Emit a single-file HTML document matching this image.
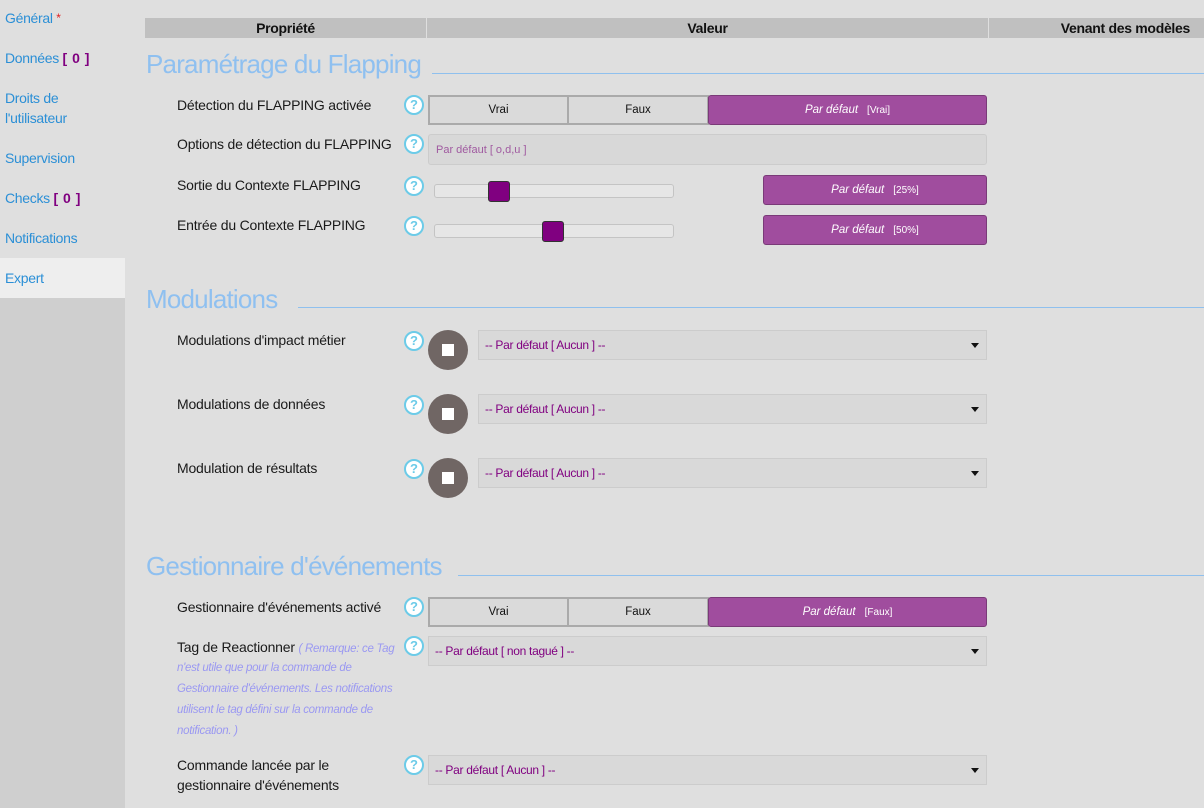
<!DOCTYPE html>
<html><head><meta charset="utf-8">
<style>
*{box-sizing:border-box;margin:0;padding:0}
body{width:1204px;height:808px;background:#dfdfdf;font-family:"Liberation Sans",sans-serif;position:relative;overflow:hidden}
.a{position:absolute}
.side{left:0;top:0;width:125px;height:808px;background:#cfcfcf}
.sidetop{left:0;top:0;width:125px;height:258px;background:#dfdfdf}
.exp{left:0;top:258px;width:125px;height:40px;background:#eeeeee}
.nav{left:5px;font-size:14px;color:#2b8fd6;line-height:20px;white-space:nowrap;letter-spacing:-0.3px}
.nav b{color:#800080;font-weight:bold;letter-spacing:0.5px}
.hdr{top:18px;height:20px;background:#c0c0c0;font-size:14px;font-weight:bold;color:#111;line-height:20px;text-align:center;letter-spacing:-0.3px}
.title{left:146px;font-size:26px;color:#8fc0f0;white-space:nowrap;line-height:30px;letter-spacing:-0.8px}
.hline{height:1px;background:#8fc0ee;right:0}
.lbl{left:177px;font-size:14px;color:#1a1a1a;white-space:nowrap;line-height:20px;letter-spacing:-0.2px}
.help{width:20px;height:20px;border-radius:50%;background:#fff;border:2px solid #6ccbe8;color:#6ccbe8;font-size:13px;font-weight:bold;text-align:center;line-height:16px}
.btn{height:30px;background:#dadada;border:2px solid #aaa;font-size:11.5px;color:#111;text-align:center;line-height:27px}
.pbtn{height:30px;background:#a04d9e;border:1px solid #7a3a78;border-radius:3px;color:#fff;font-size:11.5px;text-align:center;line-height:28px}
.pbtn i{font-size:11.5px}
.pbtn span{font-size:10px;margin-left:9px}
.inp{height:31px;background:#d8d8d8;border:1px solid #ccc;border-radius:3px}
.sel{height:30px;background:#d9d9d9;border:1px solid #ccc;font-size:12px;color:#800080;line-height:28px;padding-left:6px;letter-spacing:-0.3px}
.sel:after{content:"";position:absolute;right:7px;top:12px;border-left:4px solid transparent;border-right:4px solid transparent;border-top:5px solid #111}
.track{height:14px;background:#e6e6e6;border:1px solid #c4c4c4;border-radius:3px}
.thumb{width:22px;height:21px;background:#800080;border:1px solid #333;border-radius:3px}
.circ{width:40px;height:40px;border-radius:50%;background:#706664}
.circ:after{content:"";position:absolute;left:14px;top:14px;width:12px;height:12px;background:#fff}
.note{font-style:italic;color:#9a98f2;font-size:11.5px;letter-spacing:-0.3px;white-space:nowrap;line-height:21px;left:177px}
</style></head><body>
<div class="a side"></div>
<div class="a sidetop"></div>
<div class="a exp"></div>
<div class="a nav" style="top:8px">Général <span style="color:#e02020;font-size:12px;vertical-align:top">*</span></div>
<div class="a nav" style="top:48px">Données <b>[ 0 ]</b></div>
<div class="a nav" style="top:88px">Droits de<br>l'utilisateur</div>
<div class="a nav" style="top:148px">Supervision</div>
<div class="a nav" style="top:188px">Checks <b>[ 0 ]</b></div>
<div class="a nav" style="top:228px">Notifications</div>
<div class="a nav" style="top:268px">Expert</div>

<div class="a hdr" style="left:145px;width:281px">Propriété</div>
<div class="a hdr" style="left:427px;width:561px">Valeur</div>
<div class="a hdr" style="left:989px;width:215px;text-align:right;padding-right:14px">Venant des modèles</div>

<!-- Section 1 -->
<div class="a title" style="top:49px">Paramétrage du Flapping</div>
<div class="a hline" style="left:432px;top:73px"></div>

<div class="a lbl" style="top:95px">Détection du FLAPPING activée</div>
<div class="a help" style="left:404px;top:95px">?</div>
<div class="a btn" style="left:428px;top:95px;width:141px">Vrai</div>
<div class="a btn" style="left:567px;top:95px;width:142px">Faux</div>
<div class="a pbtn" style="left:708px;top:95px;width:279px"><i>Par défaut</i><span>[Vrai]</span></div>

<div class="a lbl" style="top:134px">Options de détection du FLAPPING</div>
<div class="a help" style="left:404px;top:134px">?</div>
<div class="a inp" style="left:428px;top:134px;width:559px;font-size:11px;color:#a05aa0;line-height:31px;padding-left:7px">Par défaut [ o,d,u ]</div>

<div class="a lbl" style="top:175px">Sortie du Contexte FLAPPING</div>
<div class="a help" style="left:404px;top:176px">?</div>
<div class="a track" style="left:434px;top:184px;width:240px"></div>
<div class="a thumb" style="left:488px;top:181px"></div>
<div class="a pbtn" style="left:763px;top:175px;width:224px"><i>Par défaut</i><span>[25%]</span></div>

<div class="a lbl" style="top:215px">Entrée du Contexte FLAPPING</div>
<div class="a help" style="left:404px;top:216px">?</div>
<div class="a track" style="left:434px;top:224px;width:240px"></div>
<div class="a thumb" style="left:542px;top:221px"></div>
<div class="a pbtn" style="left:763px;top:215px;width:224px"><i>Par défaut</i><span>[50%]</span></div>

<!-- Section 2 -->
<div class="a title" style="top:284px">Modulations</div>
<div class="a hline" style="left:298px;top:307px"></div>

<div class="a lbl" style="top:330px">Modulations d'impact métier</div>
<div class="a help" style="left:404px;top:331px">?</div>
<div class="a circ" style="left:428px;top:330px"></div>
<div class="a sel" style="left:478px;top:330px;width:509px">-- Par défaut [ Aucun ] --</div>

<div class="a lbl" style="top:394px">Modulations de données</div>
<div class="a help" style="left:404px;top:395px">?</div>
<div class="a circ" style="left:428px;top:394px"></div>
<div class="a sel" style="left:478px;top:394px;width:509px">-- Par défaut [ Aucun ] --</div>

<div class="a lbl" style="top:458px">Modulation de résultats</div>
<div class="a help" style="left:404px;top:459px">?</div>
<div class="a circ" style="left:428px;top:458px"></div>
<div class="a sel" style="left:478px;top:458px;width:509px">-- Par défaut [ Aucun ] --</div>

<!-- Section 3 -->
<div class="a title" style="top:551px">Gestionnaire d'événements</div>
<div class="a hline" style="left:458px;top:575px"></div>

<div class="a lbl" style="top:597px">Gestionnaire d'événements activé</div>
<div class="a help" style="left:404px;top:597px">?</div>
<div class="a btn" style="left:428px;top:597px;width:141px">Vrai</div>
<div class="a btn" style="left:567px;top:597px;width:142px">Faux</div>
<div class="a pbtn" style="left:708px;top:597px;width:279px"><i>Par défaut</i><span>[Faux]</span></div>

<div class="a lbl" style="top:637px">Tag de Reactionner <span class="note" style="position:static">( Remarque: ce Tag</span></div>
<div class="a note" style="top:658px">n'est utile que pour la commande de</div>
<div class="a note" style="top:679px">Gestionnaire d'événements. Les notifications</div>
<div class="a note" style="top:700px">utilisent le tag défini sur la commande de</div>
<div class="a note" style="top:721px">notification. )</div>
<div class="a help" style="left:404px;top:636px">?</div>
<div class="a sel" style="left:428px;top:636px;width:559px">-- Par défaut [ non tagué ] --</div>

<div class="a lbl" style="top:755px">Commande lancée par le<br>gestionnaire d'événements</div>
<div class="a help" style="left:404px;top:755px">?</div>
<div class="a sel" style="left:428px;top:755px;width:559px">-- Par défaut [ Aucun ] --</div>
</body></html>
